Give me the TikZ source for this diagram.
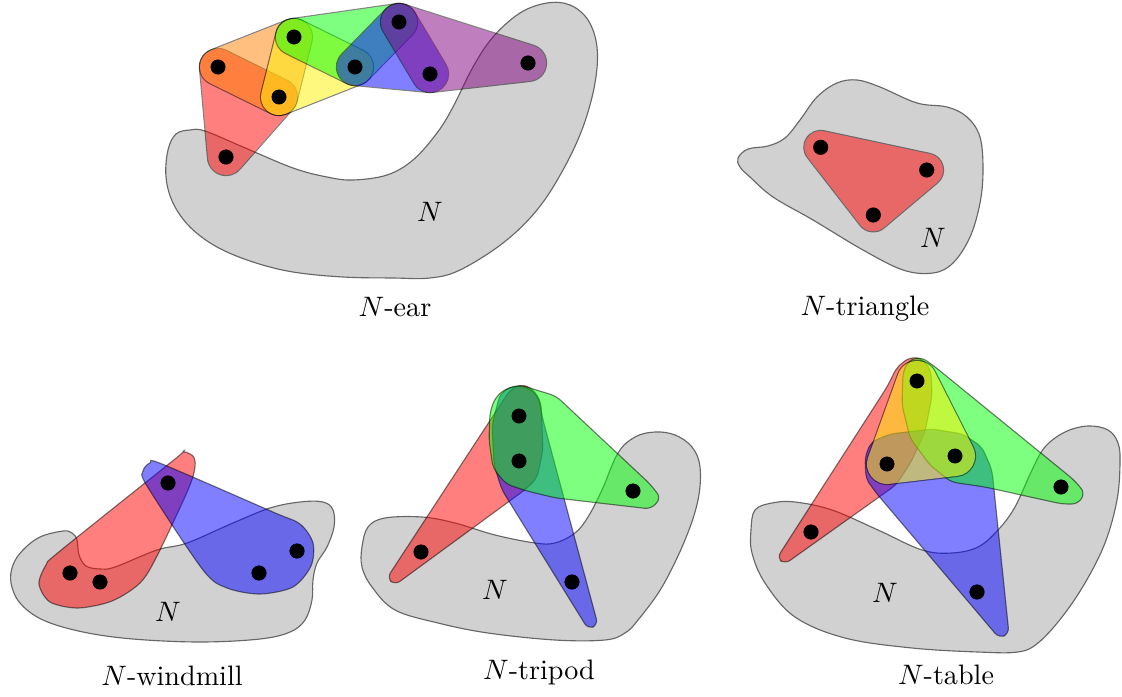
\documentclass[tikz,border=0pt]{standalone}
\usepackage{amsmath}
\usepackage{xcolor}
\usepackage{tikz}
\usetikzlibrary{calc}

% rounded hull of some dots: radius, colour, path
\newcommand{\hyperhull}[3]{%
  \begin{scope}[transparency group, opacity=.5]
    \draw[line width=2*#1+.8pt, line join=round, fill=black] #3;
    \draw[line width=2*#1, line join=round, draw=#2, fill=#2] #3;
  \end{scope}}

\begin{document}
\begin{tikzpicture}[
    x=0.0125cm, y=-0.0125cm,
    dot/.style={circle, fill=black, inner sep=0pt, minimum size=5.3pt},
    region/.style={draw=black!60, fill=black!18, line width=.4pt},
    tear/.style={draw=black, draw opacity=.5, fill=#1, fill opacity=.5,
      line width=.4pt, rounded corners=2.2pt},
    caption/.style={anchor=base},
  ]
  \useasboundingbox (0,0) rectangle (1122,697);

  % N-ear
  \draw[region] plot[smooth cycle, tension=.6] coordinates {
    (166,177) (168,150) (176,134) (190,130) (205,131) (243,147) (293,168)
    (327,177) (353,180) (387,175) (413,160) (437,133) (453,107) (473,67)
    (493,37) (520,13) (547,3) (570,5) (588,20) (597,47) (595,83) (583,127)
    (563,170) (537,210) (503,243) (460,270) (430,278) (393,278) (343,277)
    (293,272) (253,262) (217,247) (190,227) (173,203)};
  \node[dot] (e1) at (218,67) {};
  \node[dot] (e2) at (279,97) {};
  \node[dot] (e3) at (294,37) {};
  \node[dot] (e4) at (355,67) {};
  \node[dot] (e5) at (399,22) {};
  \node[dot] (e6) at (430,74) {};
  \node[dot] (e7) at (528,63) {};
  \node[dot] (e8) at (226,157) {};
  \hyperhull{6.4pt}{red}{(e8.center) -- (e1.center) -- (e2.center) -- cycle}
  \hyperhull{6.4pt}{orange}{(e1.center) -- (e3.center) -- (e2.center) -- cycle}
  \hyperhull{6.4pt}{yellow}{(e2.center) -- (e3.center) -- (e4.center) -- cycle}
  \hyperhull{6.4pt}{green}{(e3.center) -- (e5.center) -- (e4.center) -- cycle}
  \hyperhull{6.4pt}{blue}{(e4.center) -- (e5.center) -- (e6.center) -- cycle}
  \hyperhull{6.4pt}{violet}{(e5.center) -- (e7.center) -- (e6.center) -- cycle}
  \foreach \i in {1,...,8} \node[dot] at (e\i) {};
  \node (nE) at (430,212) {$N$};
  \node[caption] (lE) at (395,316.7) {$N$-ear};

  % N-triangle
  \draw[region] plot[smooth cycle, tension=.6] coordinates {
    (738,158) (748,149) (768,146) (785,138) (800,120) (817,97) (837,83)
    (857,80) (880,87) (917,103) (947,107) (967,117) (980,137) (983,170)
    (980,203) (970,237) (953,263) (933,273) (903,270) (863,250) (813,220)
    (773,197) (750,177) (740,167)};
  \node[dot] (t1) at (820.7,147.3) {};
  \node[dot] (t2) at (926.7,170) {};
  \node[dot] (t3) at (873.3,215) {};
  \hyperhull{5.8pt}{red}{(t1.center) -- (t2.center) -- (t3.center) -- cycle}
  \foreach \i in {1,2,3} \node[dot] at (t\i) {};
  \node (nT) at (933,238) {$N$};
  \node[caption] (lT) at (865,315.7) {$N$-triangle};

  % N-windmill
  \draw[region] plot[smooth cycle, tension=.6] coordinates {
    (11,583) (13,565) (23,550) (40,537) (63,531) (72,533) (77,540) (79,555)
    (86,566) (100,569) (115,567) (157,550) (187,543) (233,523) (270,508)
    (300,502) (323,502) (333,510) (334,527) (327,547) (317,563) (313,580)
    (312,600) (305,620) (290,632) (260,639) (200,642) (133,639) (83,632)
    (43,620) (20,603)};
  \node[dot] (w0) at (168,483) {};
  \node[dot] (w1) at (70,573) {};
  \node[dot] (w2) at (100,582) {};
  \node[dot] (w3) at (259,573) {};
  \node[dot] (w4) at (297,551) {};
  \draw[tear=red, sharp corners] plot[smooth cycle, tension=.5] coordinates {
    (183,452) (193,456) (195,467) (188,490) (157,556) (140,583) (112,601)
    (78,608) (50,602) (39,584) (46,565) (60,551) (175,459)};
  \draw[tear=blue, sharp corners] plot[smooth cycle, tension=.5] coordinates {
    (143,471) (150,463) (162,464) (273,512) (300,524) (313,543) (311,566)
    (293,587) (260,594) (227,588) (203,570) (147,486)};
  \foreach \i in {0,...,4} \node[dot] at (w\i) {};
  \node (nW) at (168,612) {$N$};
  \node[caption] (lW) at (172,685) {$N$-windmill};

  % N-tripod
  \draw[region] plot[smooth cycle, tension=.6] coordinates {
    (362,547) (368,527) (385,518) (422,517) (455,523) (495,535) (535,543)
    (555,543) (575,533) (588,517) (602,490) (618,453) (635,437) (655,432)
    (675,435) (692,447) (700,467) (698,500) (685,540) (662,587) (638,620)
    (625,633) (605,640) (555,640) (488,633) (438,623) (395,610) (372,587)
    (362,567)};
  \node[dot] (p1) at (519,416) {};
  \node[dot] (p2) at (519,461) {};
  \node[dot] (p3) at (421,552) {};
  \node[dot] (p4) at (633,491) {};
  \node[dot] (p5) at (572,582) {};
  \draw[tear=red] (395,585) -- (387,578) -- (510,390) -- (521,384)
    -- (533,389) -- (541,402) -- (543,450) -- (537,478) -- (526,489) -- cycle;
  \draw[tear=blue] (500,394) -- (512,386) -- (527,387) -- (538,396)
    -- (543,420) -- (598,625) -- (588,629) -- (502,490) -- (494,465)
    -- (492,425) -- cycle;
  \draw[tear=green] (495,398) -- (505,389) -- (520,385) -- (556,396)
    -- (650,484) -- (661,498) -- (651,509) -- (556,498) -- (527,491)
    -- (506,484) -- (493,468) -- (489,440) -- (490,412) -- cycle;
  \foreach \i in {1,...,5} \node[dot] at (p\i) {};
  \node (nP) at (495,590) {$N$};
  \node[caption] (lP) at (539,679) {$N$-tripod};

  % N-table
  \draw[region] plot[smooth cycle, tension=.6] coordinates {
    (751,530) (755,510) (772,503) (795,502) (832,510) (878,530) (922,550)
    (952,553) (978,547) (998,530) (1015,507) (1032,470) (1045,447)
    (1065,432) (1088,426) (1108,430) (1118,443) (1120,463) (1117,500)
    (1105,543) (1085,583) (1062,617) (1038,643) (1018,652) (978,652)
    (912,648) (845,638) (795,617) (765,583) (752,553)};
  \node[dot] (b1) at (917,381) {};
  \node[dot] (b2) at (887,464) {};
  \node[dot] (b3) at (955,456) {};
  \node[dot] (b4) at (811,532) {};
  \node[dot] (b5) at (1061,487) {};
  \node[dot] (b6) at (977,592) {};
  \draw[tear=red] (785,564) -- (777,558) -- (887,387) -- (897,367)
    -- (910,357) -- (923,359) -- (931,371) -- (932,396) -- (925,432)
    -- (911,462) -- (896,485) -- cycle;
  \draw[tear=blue] (865,457) -- (871,442) -- (890,434) -- (932,429)
    -- (963,434) -- (982,447) -- (992,470) -- (1009,634) -- (999,638)
    -- (877,494) -- (866,479) -- cycle;
  \draw[tear=green] (903,372) -- (909,360) -- (921,357) -- (934,366)
    -- (1074,480) -- (1085,493) -- (1078,504) -- (1062,504) -- (985,487)
    -- (951,482) -- (930,465) -- (910,438) -- (902,405) -- cycle;
  \hyperhull{7.1pt}{yellow}{(b1.center) -- (b2.center) -- (b3.center) -- cycle}
  \foreach \i in {1,...,6} \node[dot] at (b\i) {};
  \node (nB) at (885,593) {$N$};
  \node[caption] (lB) at (946,684) {$N$-table};
\end{tikzpicture}
\end{document}
